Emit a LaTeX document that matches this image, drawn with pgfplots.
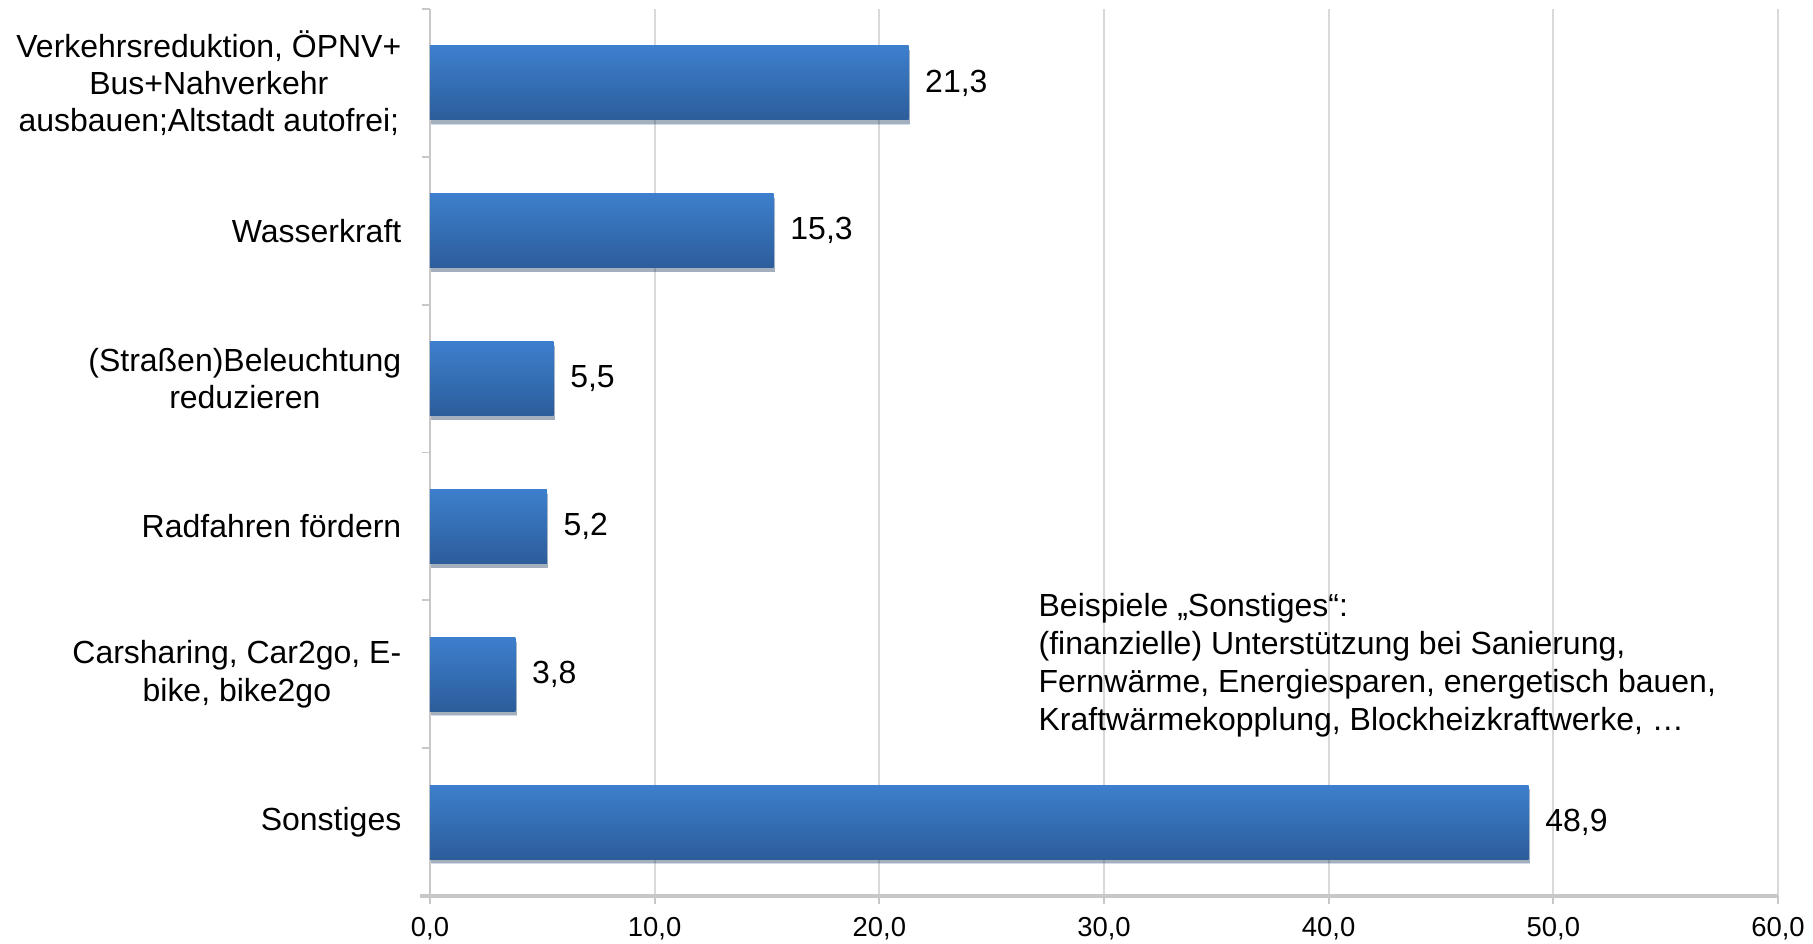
\documentclass[border=0pt]{standalone}
\usepackage{fontspec}
\setmainfont{Liberation Sans}
\usepackage{pgfplots}
\pgfplotsset{compat=1.18}
\usetikzlibrary{shadows}
\definecolor{bartop}{HTML}{3D7FCD}
\definecolor{barbot}{HTML}{2C5D9B}
\definecolor{gridc}{HTML}{D9D9D9}
\definecolor{axisc}{HTML}{C8C8C8}
\pgfplotsset{
  barstyle/.style={draw=none, top color=bartop, bottom color=barbot,
    drop shadow={shadow xshift=0.4pt, shadow yshift=-1.2pt, opacity=0.22, fill=black}},
}
\begin{document}
\begin{tikzpicture}
\useasboundingbox (-4.30cm,-0.47cm) rectangle (13.83cm,8.96cm);
\begin{axis}[
  at={(0,0)}, anchor=south west,
  scale only axis,
  width=13.48cm, height=8.87cm,
  xbar, bar width=0.5, bar shift=0pt,
  xmin=0, xmax=60,
  ymin=-0.5, ymax=5.5,
  axis x line*=bottom, axis y line*=left,
  x axis line style={draw=axisc, line width=0.9pt, shorten <=-1mm},
  y axis line style={draw=axisc, line width=0.5pt},
  xtick={0,10,...,60},
  xmajorgrids, grid style={gridc, line width=0.5pt},
  tick align=outside,
  major tick length=0.8mm,
  tick style={draw=axisc, line width=0.5pt},
  ytick={-0.5,0.5,...,5.5},
  yticklabels={},
  extra y ticks={0,1,2,3,4,5},
  extra y tick labels={Sonstiges, {Carsharing, Car2go, E-\\bike, bike2go}, Radfahren fördern, {(Straßen)Beleuchtung\\reduzieren}, Wasserkraft, {Verkehrsreduktion, ÖPNV+\\Bus+Nahverkehr\\ausbauen;Altstadt autofrei;}},
  extra y tick style={major tick length=0pt, grid=none},
  yticklabel style={align=center, inner sep=0pt, xshift=-2.8mm, font=\fontsize{9.1pt}{10.6pt}\selectfont},
  xticklabel style={inner sep=0pt, yshift=-1.3mm, font=\fontsize{7.8pt}{9pt}\selectfont,
    /pgf/number format/.cd, fixed, fixed zerofill, precision=1, use comma},
  /pgf/number format/assume math mode=true,
  nodes near coords={\pgfmathprintnumber[fixed,fixed zerofill,precision=1,use comma]{\pgfplotspointmeta}},
  nodes near coords style={anchor=west, inner sep=0pt, xshift=1.6mm, font=\fontsize{9.1pt}{10.6pt}\selectfont},
  clip=false,
]
\addplot[barstyle] coordinates {(48.9,0)};
\addplot[barstyle] coordinates {(3.8,1)};
\addplot[barstyle] coordinates {(5.2,2)};
\addplot[barstyle] coordinates {(5.5,3)};
\addplot[barstyle] coordinates {(15.3,4)};
\addplot[barstyle] coordinates {(21.3,5)};
\node[anchor=west, align=left, inner sep=0pt, font=\fontsize{9.1pt}{10.75pt}\selectfont]
  at (axis cs:27.06,1.06) {Beispiele „Sonstiges“:\\(finanzielle) Unterstützung bei Sanierung,\\Fernwärme, Energiesparen, energetisch bauen,\\Kraftwärmekopplung, Blockheizkraftwerke, …};
\end{axis}
\end{tikzpicture}
\end{document}
